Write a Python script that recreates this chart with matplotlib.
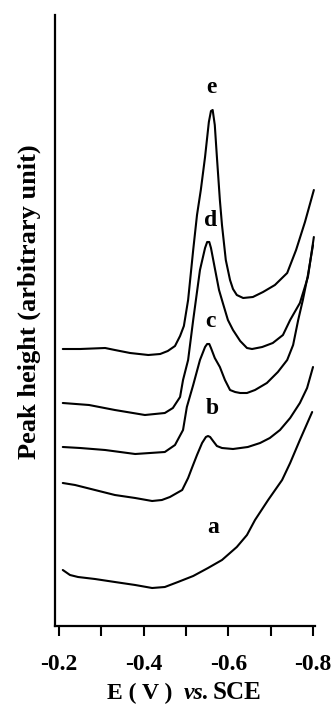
import matplotlib
matplotlib.use('Agg')
import matplotlib.pyplot as plt

plt.rcParams['font.family'] = ['Liberation Serif', 'DejaVu Serif']
plt.rcParams['font.weight'] = 'bold'
plt.rcParams['axes.unicode_minus'] = False

# potentials (V vs SCE) and peak height (arbitrary unit)
e_x = [-0.209, -0.250, -0.309, -0.332, -0.368, -0.411, -0.439, -0.457, -0.474, -0.486,
       -0.495, -0.505, -0.517, -0.526, -0.535, -0.545, -0.554, -0.559, -0.563, -0.568,
       -0.573, -0.580, -0.585, -0.594, -0.604, -0.611, -0.620, -0.635, -0.658, -0.682,
       -0.710, -0.739, -0.760, -0.781, -0.802]
e_y = [277, 277, 278, 276, 273, 271, 272, 275, 280, 290,
       300, 326, 376, 411, 436, 469, 504, 515, 516, 501,
       469, 426, 401, 366, 346, 337, 331, 328, 329, 334,
       341, 353, 376, 404, 436]

d_x = [-0.209, -0.271, -0.332, -0.403, -0.450, -0.469, -0.486, -0.493, -0.505, -0.517,
       -0.533, -0.545, -0.550, -0.555, -0.559, -0.568, -0.578, -0.587, -0.599, -0.611,
       -0.628, -0.644, -0.656, -0.680, -0.705, -0.729, -0.746, -0.769, -0.788, -0.802]
d_y = [223, 221, 216, 211, 213, 218, 229, 246, 266, 306,
       356, 378, 384, 384, 378, 358, 336, 323, 306, 296,
       285, 278, 277, 279, 283, 291, 306, 323, 349, 389]

c_x = [-0.209, -0.250, -0.309, -0.380, -0.450, -0.474, -0.493, -0.502, -0.517, -0.533,
       -0.545, -0.550, -0.555, -0.559, -0.568, -0.580, -0.592, -0.604, -0.616, -0.628,
       -0.644, -0.663, -0.691, -0.717, -0.739, -0.753, -0.765, -0.776, -0.788, -0.800]
c_y = [179, 178, 176, 172, 174, 181, 196, 219, 241, 266,
       279, 282, 282, 278, 268, 259, 246, 236, 234, 233,
       233, 236, 243, 254, 266, 281, 306, 326, 351, 381]

b_x = [-0.209, -0.238, -0.285, -0.332, -0.380, -0.420, -0.443, -0.462, -0.491, -0.505,
       -0.514, -0.526, -0.538, -0.547, -0.552, -0.557, -0.564, -0.573, -0.585, -0.611,
       -0.646, -0.675, -0.698, -0.722, -0.746, -0.769, -0.786, -0.800]
b_y = [143, 141, 136, 131, 128, 125, 126, 129, 136, 148,
       158, 171, 183, 189, 190, 189, 185, 180, 178, 177,
       179, 183, 188, 196, 208, 223, 238, 259]

a_x = [-0.209, -0.226, -0.245, -0.285, -0.332, -0.380, -0.420, -0.450, -0.481, -0.517,
       -0.552, -0.585, -0.620, -0.644, -0.663, -0.694, -0.727, -0.746, -0.769, -0.798]
a_y = [56, 51, 49, 47, 44, 41, 38, 39, 44, 50,
       58, 66, 79, 91, 106, 126, 146, 163, 186, 214]

curves = [(a_x, a_y), (b_x, b_y), (c_x, c_y), (d_x, d_y), (e_x, e_y)]

labels = ['a', 'b', 'c', 'd', 'e']
label_x = [-0.564, -0.561, -0.557, -0.557, -0.559]
label_y = [93, 212, 299, 400, 533]

ticks = [-0.2, -0.3, -0.4, -0.5, -0.6, -0.7, -0.8]
tick_labels = ['-0.2', '', '-0.4', '', '-0.6', '', '-0.8']

fig = plt.figure(figsize=(3.31, 7.06), dpi=100)
ax = fig.add_axes([55 / 331, 1 - 626 / 706, 260 / 331, 611 / 706])

for xs, ys in curves:
    ax.plot(xs, ys, color='black', lw=1.5, solid_joinstyle='round', solid_capstyle='round')

for lab, lx, ly in zip(labels, label_x, label_y):
    ax.text(lx, ly, lab, fontsize=17, fontweight='bold', ha='center', va='baseline')

ax.set_xlim(-0.1906, -0.8047)
ax.set_ylim(0, 611)
ax.set_xticks(ticks)
ax.set_xticklabels(tick_labels, fontsize=17, fontweight='bold')
ax.set_yticks([])
ax.tick_params(axis='x', direction='out', length=7, width=1.5, pad=13)
for side in ['top', 'right']:
    ax.spines[side].set_visible(False)
for side in ['left', 'bottom']:
    ax.spines[side].set_linewidth(1.6)

fig.text(29 / 331, 1 - 302 / 706, 'Peak height (arbitrary unit)', fontsize=19,
         fontweight='bold', rotation=90, ha='center', va='center')

# x label with italic "vs."
yb = 1 - 699 / 706
fig.text(107 / 331, yb, 'E ( V )', fontsize=17, fontweight='bold', ha='left', va='baseline')
fig.text(184 / 331, yb, 'vs.', fontsize=17, fontweight='bold', style='italic', va='baseline')
fig.text(213 / 331, yb, 'SCE', fontsize=18, fontweight='bold', va='baseline')

fig.savefig('out.png', dpi=100)
